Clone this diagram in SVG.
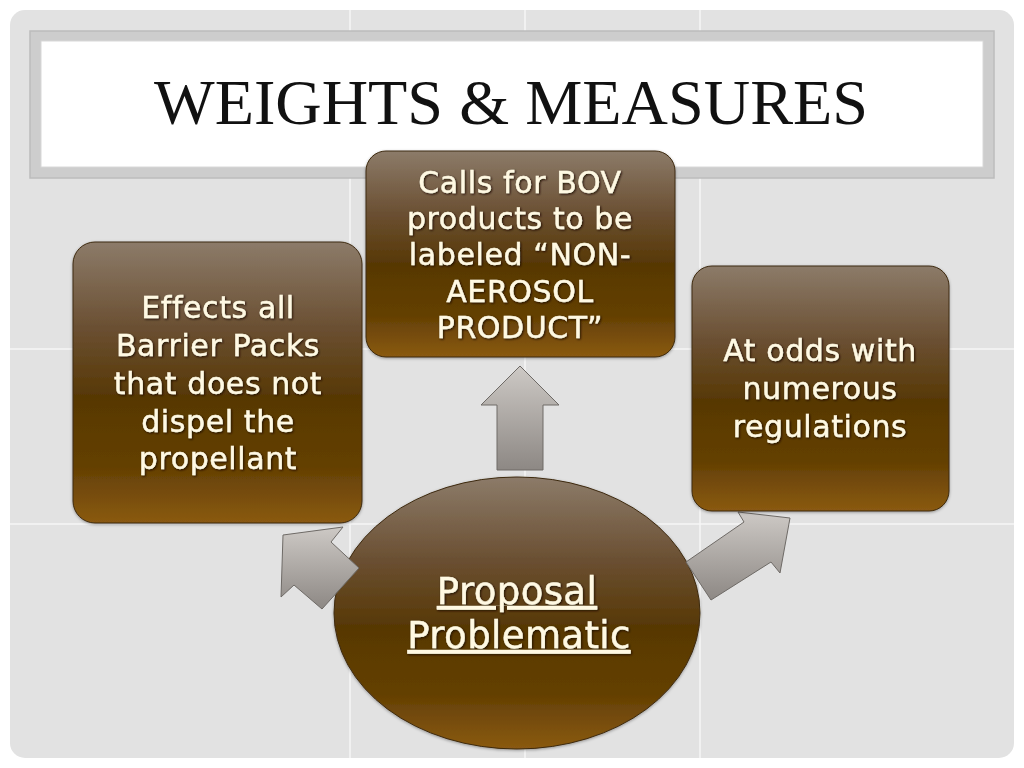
<svg xmlns="http://www.w3.org/2000/svg" width="1024" height="768" viewBox="0 0 1024 768">
  <defs>
    <linearGradient id="brown" x1="0" y1="0" x2="0" y2="1">
      <stop offset="0" stop-color="#8c7b69"/>
      <stop offset="0.3" stop-color="#6b5033"/>
      <stop offset="0.55" stop-color="#573805"/>
      <stop offset="0.8" stop-color="#644004"/>
      <stop offset="1" stop-color="#8a5a12"/>
    </linearGradient>
    <linearGradient id="grey" x1="0" y1="0" x2="0" y2="1">
      <stop offset="0" stop-color="#cdc9c5"/>
      <stop offset="1" stop-color="#8d8884"/>
    </linearGradient>
    <filter id="ts" x="-10%" y="-20%" width="120%" height="140%">
      <feDropShadow dx="1" dy="1" stdDeviation="0.8" flood-color="#1e1000" flood-opacity="0.95"/>
    </filter>
    <filter id="bs" x="-10%" y="-10%" width="120%" height="120%">
      <feDropShadow dx="0" dy="1" stdDeviation="1.5" flood-color="#000000" flood-opacity="0.35"/>
    </filter>
  </defs>
  <style>
    .box { fill: url(#brown); stroke: #3e2a10; stroke-width: 1; filter: url(#bs); }
    .arrow { fill: url(#grey); stroke: #6e6a66; stroke-width: 1; }
    .lbl { font-family: "DejaVu Sans", "Noto Sans", sans-serif; font-size: 30px; letter-spacing: 0.6px; fill: #fff9e3; stroke: #fff9e3; stroke-width: 0.4; text-anchor: middle; filter: url(#ts); }
    .big { font-size: 37px; text-decoration: underline; letter-spacing: 0.4px; }
    .grid { stroke: #f6f6f6; stroke-width: 1.5; }
  </style>

  <rect x="0" y="0" width="1024" height="768" fill="#ffffff"/>
  <rect x="10" y="10" width="1004" height="748" rx="15" fill="#e2e2e2"/>
  <g id="grid">
    <line class="grid" x1="350" y1="10" x2="350" y2="758"/>
    <line class="grid" x1="525" y1="10" x2="525" y2="758"/>
    <line class="grid" x1="700" y1="10" x2="700" y2="758"/>
    <line class="grid" x1="10" y1="349" x2="1014" y2="349"/>
    <line class="grid" x1="10" y1="524" x2="1014" y2="524"/>
  </g>

  <g id="title">
    <rect x="30" y="31" width="964" height="147" fill="#cdcdcd" stroke="#bcbcbc" stroke-width="1.5"/>
    <rect x="41" y="41" width="942" height="126" fill="#ffffff" stroke="#d8d8d8" stroke-width="1"/>
    <text x="511" y="124" font-family="'Liberation Serif', 'DejaVu Serif', serif" font-size="64" fill="#111111" text-anchor="middle" textLength="714" lengthAdjust="spacingAndGlyphs">WEIGHTS &amp; MEASURES</text>
  </g>

  <g id="center">
    <ellipse cx="517" cy="613" rx="183" ry="136" class="box"/>
    <text class="lbl big" x="517" y="604">Proposal</text>
    <text class="lbl big" x="519" y="648">Problematic</text>
  </g>

  <g id="connectors">
    <polygon class="arrow" points="497,470 497,405 481,405 520,366 559,405 543,405 543,470"/>
    <polygon class="arrow" points="322,609 294,585 281,597 283,535 343,527 331,542 359,568"/>
    <polygon class="arrow" points="686,562 744,522 738,512 790,518 780,573 771,562 711,600"/>
  </g>

  <g id="left-box">
    <rect x="73" y="242" width="289" height="281" rx="22" class="box"/>
    <text class="lbl" x="218" y="318">Effects all</text>
    <text class="lbl" x="218" y="356">Barrier Packs</text>
    <text class="lbl" x="218" y="394">that does not</text>
    <text class="lbl" x="218" y="432">dispel the</text>
    <text class="lbl" x="218" y="469">propellant</text>
  </g>

  <g id="top-box">
    <rect x="366" y="151" width="309" height="206" rx="20" class="box"/>
    <text class="lbl" x="520" y="193">Calls for BOV</text>
    <text class="lbl" x="520" y="229">products to be</text>
    <text class="lbl" x="520" y="265">labeled “NON-</text>
    <text class="lbl" x="520" y="302">AEROSOL</text>
    <text class="lbl" x="520" y="338">PRODUCT”</text>
  </g>

  <g id="right-box">
    <rect x="692" y="266" width="257" height="245" rx="20" class="box"/>
    <text class="lbl" x="820" y="361">At odds with</text>
    <text class="lbl" x="820" y="399">numerous</text>
    <text class="lbl" x="820" y="437">regulations</text>
  </g>
</svg>
